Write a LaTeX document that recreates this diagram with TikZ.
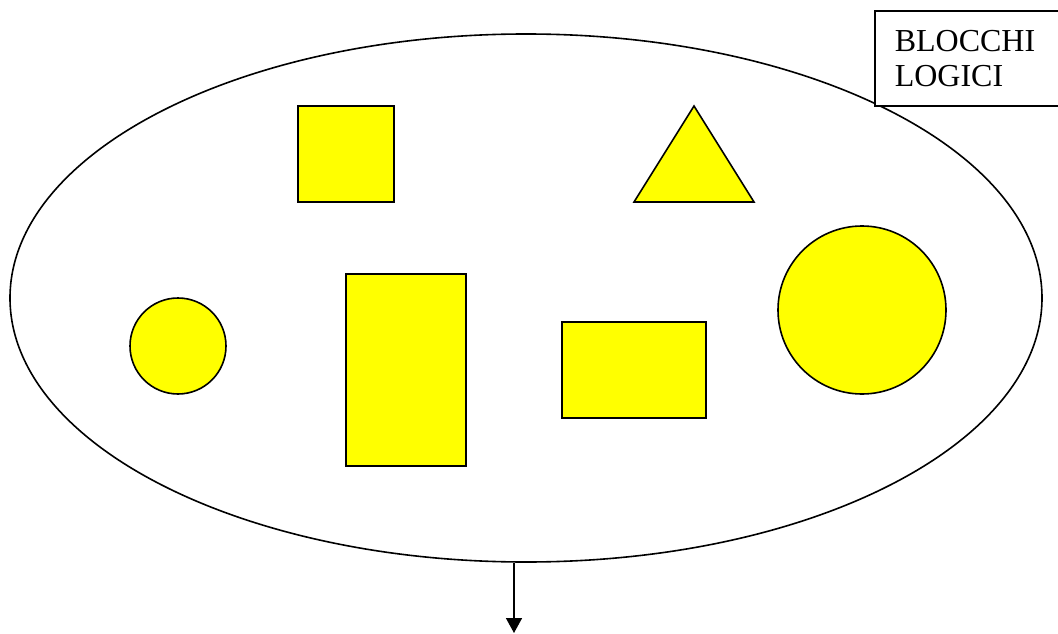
\documentclass[tikz,border=0pt]{standalone}
\usepackage{fontspec}
\setmainfont{Liberation Serif}
\usetikzlibrary{shapes.geometric, arrows.meta, positioning}
\definecolor{gialloBlocco}{RGB}{255, 255, 0}

\begin{document}
\begin{tikzpicture}[x=1pt, y=-1pt,
    insieme/.style={ellipse, draw=black, line width=1.6pt, minimum width=1032pt, minimum height=528pt, inner sep=0pt},
    blocco/.style={draw=black, fill=gialloBlocco, line width=1.6pt, inner sep=0pt},
    etichetta/.style={rectangle, draw=black, fill=white, line width=1.6pt, anchor=north west, minimum width=200pt, minimum height=95pt, text width=170pt, inner xsep=20pt, align=left, font=\fontsize{32}{35}\selectfont},
    freccia/.style={-{Triangle[width=16pt, length=15pt]}, line width=1.6pt, black}]

    \useasboundingbox (0,0) rectangle (1058,634);

    \node[insieme] (ell) at (526,298) {};

    \node[blocco, rectangle, minimum width=96pt, minimum height=96pt] (quad) at (346,154) {};
    \draw[blocco] (634,202) -- (694,106) -- (754,202) -- cycle;
    \node[blocco, circle, minimum size=96pt] (cerchio) at (178,346) {};
    \node[blocco, rectangle, minimum width=120pt, minimum height=192pt] (alto) at (406,370) {};
    \node[blocco, rectangle, minimum width=144pt, minimum height=96pt] (largo) at (634,370) {};
    \node[blocco, circle, minimum size=168pt] (tondo) at (862,310) {};

    \node[etichetta] (titolo) at (874,10) {BLOCCHI\\LOGICI};

    \coordinate (fine) at (514,633);
    \draw[freccia] (fine |- ell.south) -- (fine);
\end{tikzpicture}
\end{document}
